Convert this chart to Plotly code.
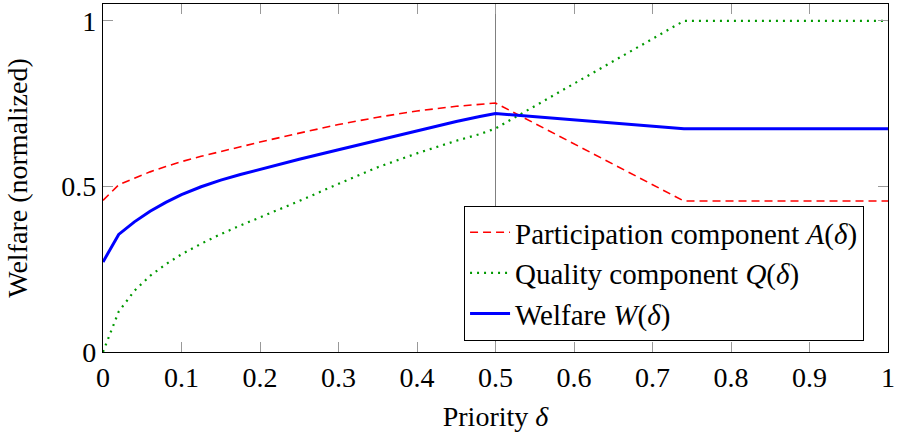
import plotly.graph_objects as go

delta = [0, 0.02, 0.04, 0.06, 0.08, 0.1, 0.125, 0.15, 0.175, 0.2, 0.25, 0.3, 0.35, 0.4, 0.45, 0.48, 0.5, 0.74, 1.0]
participation = [0.458, 0.505, 0.525, 0.544, 0.56, 0.575, 0.591, 0.606, 0.62, 0.634, 0.661, 0.687, 0.709, 0.728, 0.742, 0.749, 0.752, 0.456, 0.456]
quality = [0.0, 0.122, 0.185, 0.23, 0.265, 0.295, 0.327, 0.356, 0.382, 0.406, 0.456, 0.508, 0.558, 0.6, 0.638, 0.658, 0.675, 1.0, 1.0]
welfare = [0.272, 0.355, 0.393, 0.425, 0.452, 0.475, 0.499, 0.519, 0.536, 0.552, 0.582, 0.611, 0.64, 0.668, 0.696, 0.711, 0.72, 0.674, 0.674]
threshold = 0.5

x_ticks = [0, 0.1, 0.2, 0.3, 0.4, 0.5, 0.6, 0.7, 0.8, 0.9, 1.0]
x_labels = ["0", "0.1", "0.2", "0.3", "0.4", "0.5", "0.6", "0.7", "0.8", "0.9", "1"]
y_ticks = [0, 0.5, 1.0]
y_labels = ["0", "0.5", "1"]

FONT = "Liberation Serif"
FS = 28

fig = go.Figure()
fig.add_trace(go.Scatter(x=delta, y=participation, mode="lines",
                         name="Participation component <i>A</i>(<i>δ</i>)",
                         line=dict(color="#ff0000", width=1.6, dash="8px,5px")))
fig.add_trace(go.Scatter(x=delta, y=quality, mode="lines",
                         name="Quality component <i>Q</i>(<i>δ</i>)",
                         line=dict(color="#009900", width=2.2, dash="2px,5px")))
fig.add_trace(go.Scatter(x=delta, y=welfare, mode="lines",
                         name="Welfare <i>W</i>(<i>δ</i>)",
                         line=dict(color="#0000ff", width=3)))

fig.add_vline(x=threshold, line=dict(color="#808080", width=1), layer="below")

axis_common = dict(
    showgrid=False, zeroline=False, showline=True, linecolor="black", linewidth=1.2,
    mirror="allticks", ticks="inside", ticklen=10, tickcolor="#999999", tickwidth=1,
    tickfont=dict(family=FONT, size=FS, color="black"),
)

fig.update_xaxes(range=[0, 1], tickvals=x_ticks, ticktext=x_labels,
                 title=dict(text="Priority <i>δ</i>", font=dict(family=FONT, size=FS, color="black"), standoff=14),
                 **axis_common)
fig.update_yaxes(range=[0, 1.051], tickvals=y_ticks, ticktext=y_labels,
                 title=dict(text="Welfare (normalized)", font=dict(family=FONT, size=FS, color="black"), standoff=25),
                 **axis_common)

fig.update_layout(
    width=898, height=436,
    margin=dict(l=103, r=7, t=3, b=84),
    plot_bgcolor="white", paper_bgcolor="white",
    font=dict(family=FONT, size=FS, color="black"),
    legend=dict(x=0.9695, y=0.032, xanchor="right", yanchor="bottom",
                bordercolor="black", borderwidth=1, bgcolor="white",
                font=dict(family=FONT, size=29, color="black"),
                tracegroupgap=0, itemwidth=40),
    showlegend=True,
)

fig.write_html("out.html", config={"displayModeBar": False},
               post_script="document.body.style.margin='0';document.body.style.padding='0';")
